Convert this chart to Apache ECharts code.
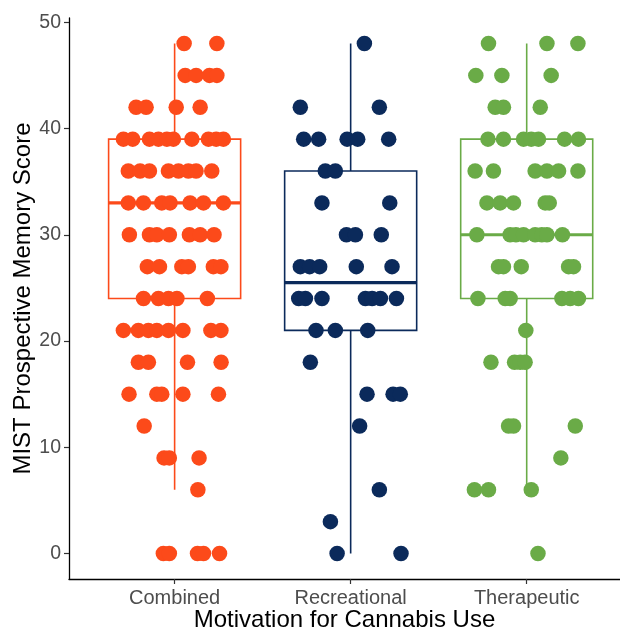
<!DOCTYPE html>
<html><head><meta charset="utf-8">
<script src="https://cdn.jsdelivr.net/npm/echarts@6/dist/echarts.min.js"></script>
<style>html,body{margin:0;padding:0;background:#fff}#c{width:620px;height:632px}</style>
</head><body><div id="c"></div>
<script>
const categories = ['Combined', 'Recreational', 'Therapeutic'];
const colors = ['#FC4A1A', '#0B2A5B', '#6AAB47'];
const yTicks = [0, 10, 20, 30, 40, 50];

// box statistics: [lower whisker, Q1, median, Q3, upper whisker]
const boxCombined = [6, 24, 33, 39, 48];
const boxRecreational = [0, 21, 25.5, 36, 48];
const boxTherapeutic = [6, 24, 30, 39, 48];

// jittered points: [x position (category units), score]
const ptsCombined = [
  [1.054,48],[1.240,48],
  [1.060,45],[1.122,45],[1.198,45],[1.240,45],
  [0.781,42],[0.838,42],[1.009,42],[1.145,42],
  [0.709,39],[0.762,39],[0.857,39],[0.908,39],[0.956,39],[0.993,39],[1.098,39],[1.192,39],[1.236,39],[1.277,39],
  [0.737,36],[0.804,36],[0.857,36],[0.965,36],[1.022,36],[1.078,36],[1.122,36],[1.211,36],
  [0.737,33],[0.823,33],[0.927,33],[0.974,33],[1.088,33],[1.164,33],[1.277,33],
  [0.743,30],[0.857,30],[0.899,30],[0.970,30],[1.084,30],[1.145,30],[1.224,30],
  [0.845,27],[0.914,27],[1.041,27],[1.078,27],[1.220,27],[1.263,27],
  [0.823,24],[0.908,24],[0.965,24],[1.013,24],[1.186,24],
  [0.709,21],[0.794,21],[0.851,21],[0.899,21],[0.965,21],[1.047,21],[1.206,21],[1.263,21],
  [0.794,18],[0.851,18],[1.073,18],[1.264,18],
  [0.741,15],[0.899,15],[0.927,15],[1.047,15],[1.249,15],
  [0.827,12],
  [0.940,9],[0.970,9],[1.139,9],
  [1.132,6],
  [0.936,0],[0.970,0],[1.130,0],[1.164,0],[1.255,0]
];
const ptsRecreational = [
  [2.078,48],
  [1.714,42],[2.163,42],
  [1.733,39],[1.818,39],[1.980,39],[2.040,39],[2.216,39],
  [1.856,36],[1.913,36],
  [1.837,33],[2.222,33],
  [1.976,30],[2.027,30],[2.174,30],
  [1.714,27],[1.767,27],[1.824,27],[2.032,27],[2.235,27],
  [1.705,24],[1.743,24],[1.837,24],[2.084,24],[2.122,24],[2.169,24],[2.260,24],
  [1.803,21],[1.913,21],[2.097,21],
  [1.771,18],
  [2.093,15],[2.241,15],[2.282,15],
  [2.051,12],
  [2.163,6],
  [1.885,3],
  [1.923,0],[2.286,0]
];
const ptsTherapeutic = [
  [2.783,48],[3.115,48],[3.291,48],
  [2.711,45],[2.859,45],[3.139,45],
  [2.821,42],[2.868,42],[3.077,42],
  [2.780,39],[2.868,39],[2.982,39],[3.026,39],[3.067,39],[3.215,39],[3.294,39],
  [2.707,36],[2.811,36],[3.048,36],[3.115,36],[3.181,36],[3.291,36],
  [2.774,33],[2.849,33],[2.925,33],[3.105,33],[3.128,33],
  [2.717,30],[2.906,30],[2.939,30],[2.982,30],[3.048,30],[3.086,30],[3.115,30],[3.203,30],
  [2.840,27],[2.868,27],[2.969,27],[3.238,27],[3.266,27],
  [2.723,24],[2.878,24],[2.906,24],[3.200,24],[3.247,24],[3.294,24],
  [2.995,21],
  [2.797,18],[2.931,18],[2.963,18],[2.991,18],
  [2.897,12],[2.925,12],[3.276,12],
  [3.194,9],
  [2.703,6],[2.783,6],[3.026,6],
  [3.064,0]
];

const boxes = [boxCombined, boxRecreational, boxTherapeutic];
const points = [ptsCombined, ptsRecreational, ptsTherapeutic];
const FONT = '"Liberation Sans", Arial, Helvetica, sans-serif';

const chart = echarts.init(document.getElementById('c'), null, {renderer: 'canvas'});

const series = [{
  type: 'custom',
  z: 1,
  encode: {x: 0, y: [1, 2, 3, 4, 5]},
  data: boxes.map((b, i) => [i + 1].concat(b)),
  renderItem: function (params, api) {
    const x = api.value(0);
    const pLo = api.coord([x, api.value(1)]);
    const pQ1 = api.coord([x, api.value(2)]);
    const pMed = api.coord([x, api.value(3)]);
    const pQ3 = api.coord([x, api.value(4)]);
    const pHi = api.coord([x, api.value(5)]);
    const hw = api.size([0.75, 0])[0] / 2;
    const c = colors[params.dataIndex];
    return {
      type: 'group',
      children: [
        {type: 'line', shape: {x1: pLo[0], y1: pLo[1], x2: pQ1[0], y2: pQ1[1]}, style: {stroke: c, lineWidth: 1.6}},
        {type: 'line', shape: {x1: pQ3[0], y1: pQ3[1], x2: pHi[0], y2: pHi[1]}, style: {stroke: c, lineWidth: 1.6}},
        {type: 'rect', shape: {x: pQ1[0] - hw, y: pQ3[1], width: 2 * hw, height: pQ1[1] - pQ3[1]}, style: {fill: '#ffffff', stroke: c, lineWidth: 1.6}},
        {type: 'line', shape: {x1: pMed[0] - hw, y1: pMed[1], x2: pMed[0] + hw, y2: pMed[1]}, style: {stroke: c, lineWidth: 3.2}}
      ]
    };
  }
}];

points.forEach((pts, i) => {
  series.push({
    type: 'scatter',
    z: 5,
    name: categories[i],
    symbol: 'circle',
    symbolSize: 15.5,
    itemStyle: {color: colors[i], opacity: 1},
    data: pts
  });
});

chart.setOption({
  animation: false,
  backgroundColor: '#ffffff',
  grid: {left: 69, right: 0, top: 18, bottom: 53, containLabel: false, outerBoundsMode: 'none'},
  xAxis: {
    type: 'value',
    min: 0.4, max: 3.53,
    name: 'Motivation for Cannabis Use',
    nameLocation: 'middle',
    nameGap: 29,
    nameMoveOverlap: false,
    nameTextStyle: {color: '#000', fontSize: 24, fontFamily: FONT},
    axisLine: {show: true, onZero: false, lineStyle: {color: '#000', width: 1.3}},
    axisTick: {show: true, length: 5, lineStyle: {color: '#333', width: 1.2}, customValues: [1, 2, 3]},
    axisLabel: {
      color: '#4D4D4D', fontSize: 20, fontFamily: FONT, margin: 9,
      customValues: [1, 2, 3],
      formatter: v => categories[Math.round(v) - 1] || ''
    },
    splitLine: {show: false}
  },
  yAxis: {
    type: 'value',
    min: -2.4, max: 50.4,
    name: 'MIST Prospective Memory Score',
    nameLocation: 'middle',
    nameGap: 34,
    nameMoveOverlap: false,
    nameTextStyle: {color: '#000', fontSize: 24, fontFamily: FONT},
    axisLine: {show: true, onZero: false, lineStyle: {color: '#000', width: 1.3}},
    axisTick: {show: true, length: 5, lineStyle: {color: '#333', width: 1.2}, customValues: yTicks},
    axisLabel: {color: '#4D4D4D', fontSize: 19.5, fontFamily: FONT, margin: 8, customValues: yTicks},
    splitLine: {show: false}
  },
  series: series
});
</script>
</body></html>
